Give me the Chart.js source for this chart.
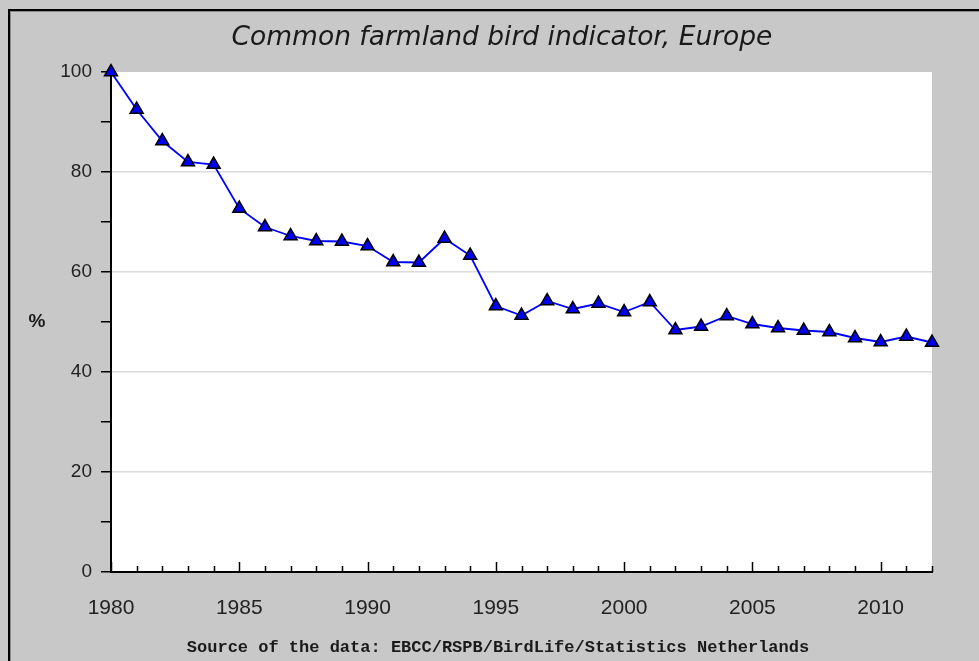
<!DOCTYPE html>
<html>
<head>
<meta charset="utf-8">
<script src="https://cdn.jsdelivr.net/npm/chart.js@4.4.1/dist/chart.umd.min.js"></script>
<style>
  html, body { margin: 0; padding: 0; background: #c8c8c8; }
  canvas { display: block; }
</style>
</head>
<body>
<canvas id="bird-chart" width="979" height="661"></canvas>
<script>
// values (index, 1980 = 100)
const years = [1980, 1981, 1982, 1983, 1984, 1985, 1986, 1987, 1988, 1989, 1990,
  1991, 1992, 1993, 1994, 1995, 1996, 1997, 1998, 1999, 2000,
  2001, 2002, 2003, 2004, 2005, 2006, 2007, 2008, 2009, 2010, 2011, 2012];
const indexValues = [100, 92.5, 86.2, 82.0, 81.5, 72.7, 69.0, 67.2, 66.2, 66.1, 65.2,
  62.0, 61.9, 66.7, 63.3, 53.2, 51.3, 54.2, 52.6, 53.7, 52.0,
  54.0, 48.4, 49.1, 51.2, 49.6, 48.8, 48.3, 48.0, 46.8, 46.0, 47.1, 45.9];
const titleText = 'Common farmland bird indicator, Europe';
const sourceText = 'Source of the data: EBCC/RSPB/BirdLife/Statistics Netherlands';
const yAxisLabel = '%';

const points = years.map((y, i) => ({ x: y, y: indexValues[i] }));

// gray frame, white plot area, titles and inward x ticks
const framePlugin = {
  id: 'frame',
  beforeDraw(chart) {
    const ctx = chart.ctx;
    const a = chart.chartArea;
    ctx.save();
    ctx.fillStyle = '#c8c8c8';
    ctx.fillRect(0, 0, chart.width, chart.height);
    ctx.fillStyle = '#000';
    ctx.fillRect(8, 9, chart.width, 2);
    ctx.fillRect(8, 9, 2, chart.height);
    ctx.fillStyle = '#8a8a8a';
    ctx.fillRect(10, 11, chart.width, 1);
    ctx.fillRect(10, 11, 1, chart.height);
    ctx.fillStyle = '#fff';
    ctx.fillRect(a.left, a.top, a.right - a.left, a.bottom - a.top);
    ctx.restore();
  },
  afterDraw(chart) {
    const ctx = chart.ctx;
    const a = chart.chartArea;
    const xs = chart.scales.x;
    ctx.save();
    ctx.strokeStyle = '#000';
    ctx.lineWidth = 1.5;
    xs.ticks.forEach(t => {
      const px = Math.round(xs.getPixelForValue(t.value)) + 0.5;
      const len = t.value % 5 === 0 ? 10 : 6;
      ctx.beginPath();
      ctx.moveTo(px, a.bottom);
      ctx.lineTo(px, a.bottom - len);
      ctx.stroke();
    });
    ctx.fillStyle = '#1a1a1a';
    ctx.textAlign = 'center';
    ctx.textBaseline = 'middle';
    ctx.font = 'italic 26.5px "DejaVu Sans"';
    ctx.fillText(titleText, 502, 38);
    ctx.font = 'bold 17px "Liberation Mono"';
    ctx.fillText(sourceText, 498, 648);
    ctx.font = 'bold 19px "Liberation Sans"';
    ctx.fillText(yAxisLabel, 37, (a.top + a.bottom) / 2);
    ctx.restore();
  }
};

new Chart(document.getElementById('bird-chart'), {
  type: 'line',
  data: {
    datasets: [{
      data: points,
      borderColor: '#0000ff',
      borderWidth: 1.8,
      tension: 0,
      fill: false,
      clip: false,
      pointStyle: 'triangle',
      pointRadius: 7.5,
      pointBackgroundColor: '#0000f0',
      pointBorderColor: '#000',
      pointBorderWidth: 1.5
    }]
  },
  options: {
    responsive: false,
    devicePixelRatio: 1,
    animation: false,
    layout: { padding: { left: 0, top: 72, right: 47, bottom: 0 } },
    plugins: {
      legend: { display: false },
      title: { display: false },
      tooltip: { enabled: false }
    },
    scales: {
      x: {
        type: 'linear',
        min: 1980,
        max: 2012,
        afterFit: s => { s.height = 89; },
        grid: { display: true, drawOnChartArea: false, drawTicks: false, color: 'transparent' },
        border: { display: true, color: '#000', width: 2 },
        ticks: {
          stepSize: 1,
          autoSkip: false,
          maxRotation: 0,
          padding: 24,
          color: '#222',
          font: { family: 'Liberation Sans', size: 21 },
          callback: v => (v % 5 === 0 ? String(v) : '')
        }
      },
      y: {
        min: 0,
        max: 100,
        afterFit: s => { s.width = 111; },
        grid: {
          lineWidth: 1.5,
          tickLength: 10,
          tickWidth: 1.5,
          tickColor: '#000',
          color: c => (c.tick && c.tick.value % 20 === 0 && c.tick.value > 0 && c.tick.value < 100 ? '#dcdcdc' : 'transparent')
        },
        border: { display: true, color: '#000', width: 2 },
        ticks: {
          stepSize: 10,
          autoSkip: false,
          padding: 9,
          color: '#222',
          font: { family: 'Liberation Sans', size: 19 },
          callback: v => (v % 20 === 0 ? String(v) : '')
        }
      }
    }
  },
  plugins: [framePlugin]
});
</script>
</body>
</html>
